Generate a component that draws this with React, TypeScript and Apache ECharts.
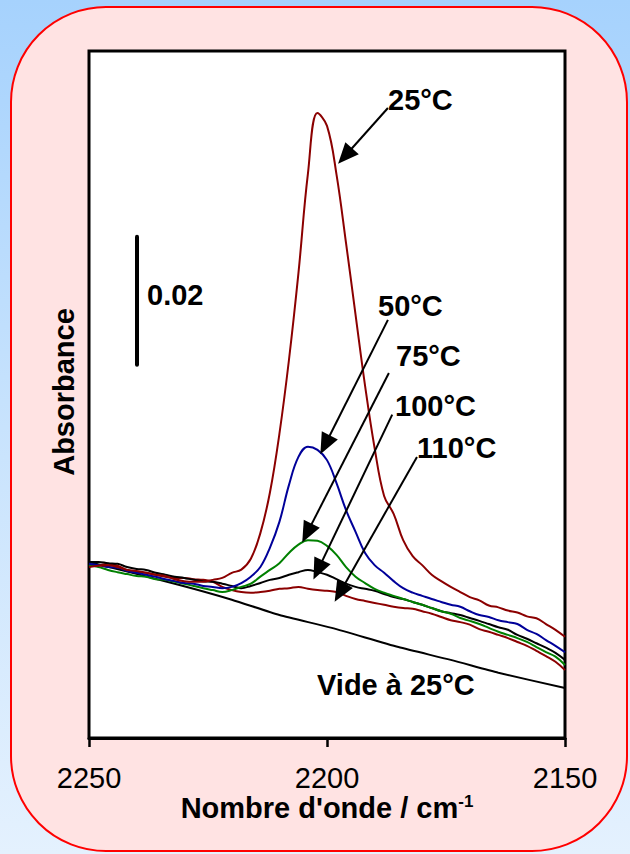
import React, { useEffect, useRef } from "react";
import * as echarts from "echarts";

// Wavenumber grid (cm-1), plotted on a reversed axis
const wavenumbers = [
  2250, 2248, 2246, 2244, 2242, 2240, 2238, 2236, 2234, 2232,
  2230, 2228, 2226, 2224, 2222, 2220, 2218, 2216, 2214, 2212,
  2210, 2208, 2206, 2204, 2202, 2200, 2198, 2196, 2194, 2192,
  2190, 2188, 2186, 2184, 2182, 2180, 2178, 2176, 2174, 2172,
  2170, 2168, 2166, 2164, 2162, 2160, 2158, 2156, 2154, 2152, 2150,
];

// Absorbance in units of 0.001 (arbitrary offset)
const abs25 = [
  26.7, 26.9, 27.0, 26.7, 26.25, 26.1, 25.8, 25.5, 25.3, 24.8,
  24.5, 24.4, 24.4, 24.7, 25.0, 25.8, 26.3, 28.0, 32.0, 38.3,
  47.5, 59.0, 72.6, 88.2, 97.6, 95.6, 88.0, 77.3, 66.1, 55.0,
  45.3, 37.8, 35.0, 30.9, 28.4, 27.0, 25.5, 24.5, 23.6, 22.8,
  22.0, 21.5, 20.7, 20.4, 19.9, 19.6, 19.0, 18.7, 17.8, 16.9, 15.8,
];
const abs50 = [
  27.2, 27.0, 26.7, 26.6, 26.1, 25.8, 25.5, 25.2, 24.8, 24.5,
  24.2, 24.1, 23.75, 23.6, 23.4, 23.6, 24.2, 25.2, 26.7, 29.7,
  33.75, 39.5, 43.9, 45.5, 45.0, 43.4, 39.8, 35.6, 32.2, 28.9,
  27.0, 25.8, 24.5, 23.4, 22.7, 22.2, 21.7, 21.25, 20.8, 20.5,
  19.8, 19.2, 18.9, 18.4, 18.1, 17.8, 16.9, 16.25, 15.3, 14.4, 13.4,
];
const abs75 = [
  27.0, 26.7, 26.25, 25.9, 25.6, 25.3, 25.2, 24.8, 24.7, 24.4,
  24.1, 23.75, 23.4, 23.1, 22.8, 23.1, 23.6, 24.1, 25.2, 26.25,
  27.3, 28.9, 30.2, 30.9, 30.8, 30.0, 28.6, 26.7, 25.2, 24.2,
  23.3, 22.7, 22.2, 21.7, 21.25, 20.8, 20.3, 19.8, 19.4, 18.75,
  18.3, 17.8, 17.2, 16.6, 16.1, 15.6, 15.0, 14.2, 13.4, 12.7, 11.4,
];
const abs100 = [
  27.5, 27.5, 27.3, 27.2, 26.7, 26.4, 26.25, 25.8, 25.5, 25.2,
  25.0, 24.7, 24.5, 24.4, 24.1, 23.75, 23.4, 23.75, 24.2, 24.7,
  25.0, 25.5, 25.9, 26.25, 25.9, 25.5, 24.8, 24.1, 23.6, 23.3,
  23.0, 22.5, 22.0, 21.7, 21.25, 20.8, 20.3, 19.8, 19.5, 19.2,
  18.75, 18.3, 17.8, 17.3, 16.9, 16.1, 15.5, 14.8, 14.1, 13.3, 12.2,
];
const abs110 = [
  26.9, 27.0, 27.2, 26.9, 26.25, 25.9, 25.8, 25.5, 25.2, 25.0,
  25.0, 24.8, 24.7, 24.4, 23.6, 23.1, 22.8, 22.7, 22.8, 23.0,
  23.3, 23.4, 23.6, 23.3, 23.1, 23.0, 22.8, 22.2, 21.7, 21.4,
  21.1, 20.8, 20.5, 20.3, 20.2, 19.8, 19.4, 18.9, 18.4, 18.1,
  17.7, 17.0, 16.6, 16.1, 15.6, 15.0, 14.4, 13.6, 12.8, 11.9, 10.6,
];
// Empty cell ("Vide à 25°C")
const videWavenumbers = [2250, 2231, 2220, 2210, 2199, 2185, 2174, 2164, 2150];
const videAbs = [27.5, 23.9, 21.6, 19.2, 17.2, 14.2, 12.2, 10.2, 7.8];

const xTicks = { min: 2150, max: 2250, interval: 50 };
const yRange = { min: 0, max: 107.3 };

// Annotation arrows: [from, to] in data coordinates
const arrows = [
  { from: [2187.2, 98.4], to: [2196.2, 90.9] },
  { from: [2187.2, 65.3], to: [2200.4, 45.8] },
  { from: [2187.0, 57.0], to: [2204.2, 32.0] },
  { from: [2186.3, 50.5], to: [2201.9, 26.25] },
  { from: [2181.1, 43.9], to: [2197.3, 22.7] },
];
const scaleBar = { x: 2240, from: 58.3, to: 78.3 }; // 0.02 absorbance

const FONT = "'Liberation Sans', Arial, sans-serif";
const FS = 29;

const pairs = (xs: number[], ys: number[]) => xs.map((x, i) => [x, ys[i]]);

const lineSeries = (name: string, data: number[][], color: string, extra: any = {}) => ({
  name,
  type: "line",
  data,
  showSymbol: false,
  symbol: "none",
  smooth: 0.4,
  lineStyle: { color, width: 2 },
  itemStyle: { color },
  silent: true,
  ...extra,
});

const text = (t: string, x: number, y: number, extra: any = {}) => ({
  type: "text",
  x,
  y,
  z: 100,
  silent: true,
  style: {
    text: t,
    fill: "#000",
    fontFamily: FONT,
    fontSize: FS,
    fontWeight: "bold",
    align: "left",
    verticalAlign: "middle",
    ...extra,
  },
});

export default function App() {
  const ref = useRef<HTMLDivElement>(null);
  useEffect(() => {
    document.body.style.margin = "0";
    const chart = echarts.init(ref.current!, null, { renderer: "svg" });
    const option: any = {
      animation: false,
      backgroundColor: "transparent",
      grid: {
        left: 89,
        top: 51,
        width: 476,
        height: 687,
        show: true,
        backgroundColor: "#ffffff",
        borderColor: "#000",
        borderWidth: 3,
      },
      xAxis: {
        type: "value",
        inverse: true,
        min: xTicks.min,
        max: xTicks.max,
        interval: xTicks.interval,
        axisLine: { show: true, onZero: false, lineStyle: { color: "#000", width: 3 } },
        axisTick: { show: true, length: 9, lineStyle: { color: "#000", width: 2.5 } },
        splitLine: { show: false },
        axisLabel: {
          color: "#000",
          fontSize: FS,
          fontFamily: FONT,
          margin: 25,
          formatter: (v: number) => String(v),
        },
      },
      yAxis: {
        type: "value",
        min: yRange.min,
        max: yRange.max,
        show: false,
        splitLine: { show: false },
      },
      series: [
        lineSeries("Vide à 25°C", pairs(videWavenumbers, videAbs), "#000", {
          smooth: 0.2,
          markLine: {
            silent: true,
            animation: false,
            symbol: ["none", "triangle"],
            symbolSize: [18, 21],
            label: { show: false },
            lineStyle: { color: "#000", width: 2, type: "solid" },
            data: arrows.map((a) => [{ coord: a.from }, { coord: a.to }]),
          },
        }),
        lineSeries("110°C", pairs(wavenumbers, abs110), "#8B0000"),
        lineSeries("100°C", pairs(wavenumbers, abs100), "#000"),
        lineSeries("75°C", pairs(wavenumbers, abs75), "#008000"),
        lineSeries("50°C", pairs(wavenumbers, abs50), "#000099"),
        lineSeries("25°C", pairs(wavenumbers, abs25), "#8B0000", {
          markLine: {
            silent: true,
            animation: false,
            symbol: ["none", "none"],
            label: { show: false },
            lineStyle: { color: "#000", width: 4, type: "solid", cap: "round" },
            data: [[{ coord: [scaleBar.x, scaleBar.from] }, { coord: [scaleBar.x, scaleBar.to] }]],
          },
        }),
      ],
      graphic: [
        {
          type: "rect",
          z: -10,
          silent: true,
          shape: { x: 11, y: 7, width: 616, height: 844, r: 95 },
          style: { fill: "#ffe3e3", stroke: "#ff0000", lineWidth: 2 },
        },
        text("25°C", 388, 100),
        text("50°C", 378, 306),
        text("75°C", 396, 356),
        text("100°C", 395, 406),
        text("110°C", 417, 448),
        text("Vide à 25°C", 317, 685),
        text("0.02", 147, 295),
        {
          type: "text",
          x: 64,
          y: 392,
          rotation: Math.PI / 2,
          z: 100,
          silent: true,
          style: {
            text: "Absorbance",
            fill: "#000",
            fontFamily: FONT,
            fontSize: FS,
            fontWeight: "bold",
            align: "center",
            verticalAlign: "middle",
          },
        },
        {
          type: "text",
          x: 327,
          y: 808,
          z: 100,
          silent: true,
          style: {
            text: "{a|Nombre d'onde / cm}{b|-1}",
            fill: "#000",
            fontFamily: FONT,
            fontSize: FS,
            fontWeight: "bold",
            align: "center",
            verticalAlign: "middle",
            rich: {
              a: { fontFamily: FONT, fontSize: FS, fontWeight: "bold", fill: "#000" },
              b: { fontFamily: FONT, fontSize: 17, fontWeight: "bold", fill: "#000", verticalAlign: "top", padding: [0, 0, 14, 0] },
            },
          },
        },
      ],
    };
    chart.setOption(option);
    return () => chart.dispose();
  }, []);
  return (
    <div
      ref={ref}
      style={{
        width: 630,
        height: 854,
        background: "linear-gradient(to bottom, #a6d2fd 0%, #c8e3fd 50%, #e4f1fe 100%)",
      }}
    />
  );
}
